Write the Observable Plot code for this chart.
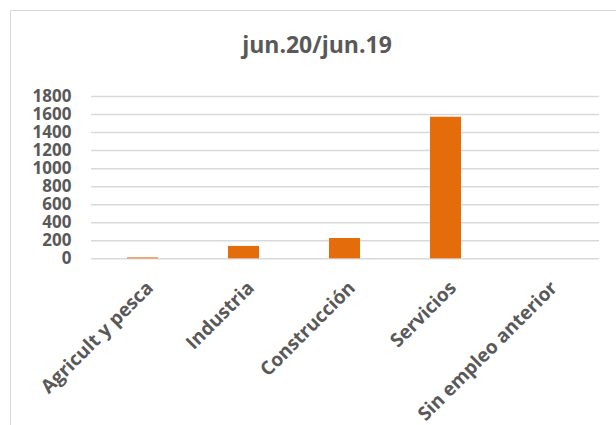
<!DOCTYPE html>
<html>
<head>
<meta charset="utf-8">
<script src="https://cdn.jsdelivr.net/npm/d3@7"></script>
<script src="https://cdn.jsdelivr.net/npm/@observablehq/plot@0.6"></script>
<style>
  html, body { margin: 0; padding: 0; background: #fff; }
  #wrap { position: relative; width: 616px; height: 425px; overflow: hidden; }
  #frame { position: absolute; left: 10px; top: 10px; width: 700px; height: 500px;
           border-left: 1.5px solid #d9d9d9; border-top: 1.5px solid #d9d9d9; }
  #title { position: absolute; left: 0; width: 634px; top: 31px; text-align: center; line-height: 1.2;
           font-family: "Open Sans", sans-serif; font-weight: bold; font-size: 23px; color: #595959; }
  #chart { position: absolute; left: 0; top: 0; }
</style>
</head>
<body>
<div id="wrap">
  <div id="frame"></div>
  <div id="chart"></div>
  <div id="title">jun.20/jun.19</div>
</div>
<script>
const categories = ["Agricult y pesca", "Industria", "Construcción", "Servicios", "Sin empleo anterior"];
const values = [10, 137, 225, 1570, 0];
const yTicks = [0, 200, 400, 600, 800, 1000, 1200, 1400, 1600, 1800];

const data = categories.map((c, i) => ({category: c, value: values[i]}));

const plot = Plot.plot({
  width: 616,
  height: 425,
  marginLeft: 91,
  marginRight: 17,
  marginTop: 96,
  marginBottom: 166.7,
  style: {fontFamily: "'Open Sans', sans-serif", fontWeight: "bold", color: "#595959", background: "transparent"},
  x: {domain: categories, paddingInner: 0.69, paddingOuter: 0.345, align: 0.5},
  y: {domain: [0, 1800]},
  marks: [
    Plot.gridY(yTicks, {stroke: "#d9d9d9", strokeOpacity: 1, strokeWidth: 1.5}),
    Plot.barY(data, {x: "category", y: "value", fill: "#E46C0A"}),
    Plot.axisY(yTicks, {tickSize: 0, tickPadding: 20, fontSize: 17, fontWeight: "bold", fill: "#595959", label: null, tickFormat: d3.format("d")}),
    Plot.axisX({tickSize: 0, tickRotate: -45, tickPadding: 26, fontSize: 19, fontWeight: "bold", fill: "#595959", label: null, dx: 7})
  ]
});
document.getElementById("chart").appendChild(plot);
</script>
</body>
</html>
